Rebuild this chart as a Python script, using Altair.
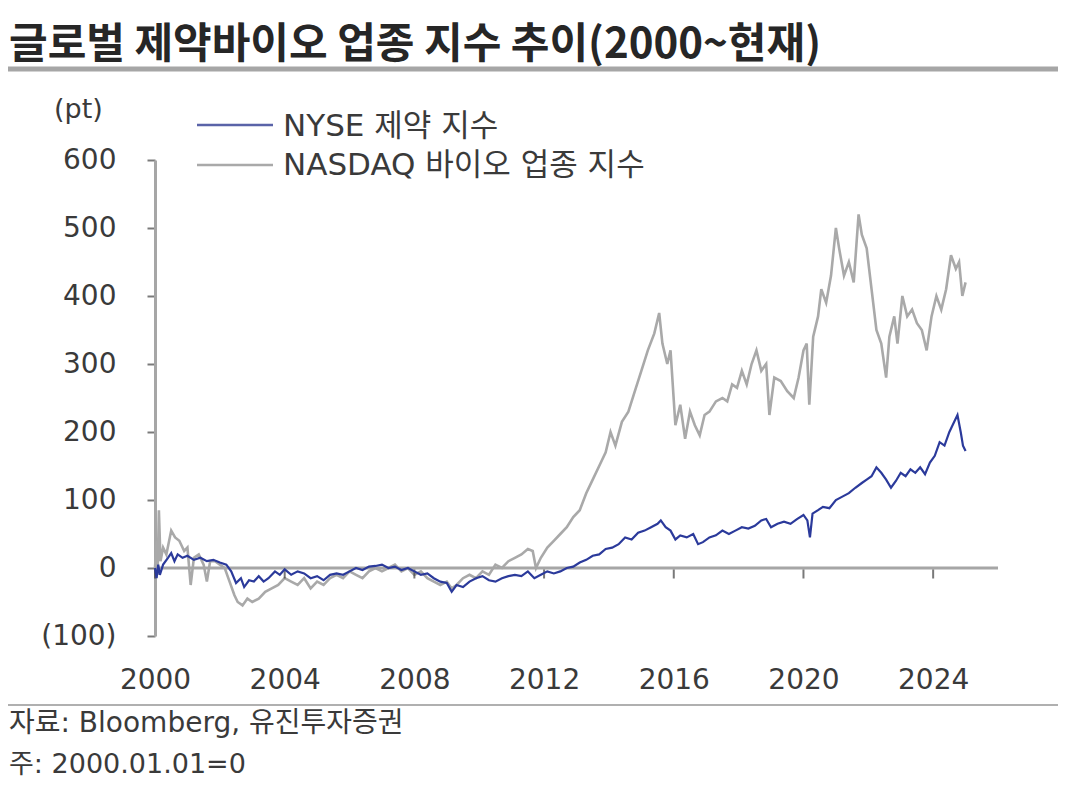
import altair as alt
import pandas as pd

FONT = "DejaVu Sans, Noto Sans CJK KR"
TFONT = "Noto Sans CJK KR"
TXT = "#3a3a3a"
BLUE = "#2b3a9b"
GRAY = "#a9a9a9"
AXIS_GRAY = "#a6a6a6"

series_names = ["NYSE 제약 지수", "NASDAQ 바이오 업종 지수"]

nasdaq_years = [2000.00, 2000.05, 2000.08, 2000.12, 2000.17, 2000.25, 2000.35, 2000.50, 2000.62, 2000.75,
                2000.90, 2001.00, 2001.10, 2001.20, 2001.35, 2001.50, 2001.60, 2001.70, 2001.85, 2002.00,
                2002.15, 2002.30, 2002.45, 2002.55, 2002.70, 2002.85, 2003.00, 2003.20, 2003.40, 2003.60,
                2003.80, 2004.00, 2004.20, 2004.40, 2004.60, 2004.80, 2005.00, 2005.20, 2005.40, 2005.60,
                2005.80, 2006.00, 2006.20, 2006.40, 2006.60, 2006.80, 2007.00, 2007.20, 2007.40, 2007.60,
                2007.80, 2008.00, 2008.20, 2008.40, 2008.60, 2008.80, 2009.00, 2009.15, 2009.30, 2009.50,
                2009.70, 2009.90, 2010.10, 2010.30, 2010.50, 2010.70, 2010.90, 2011.10, 2011.30, 2011.50,
                2011.65, 2011.75, 2011.90, 2012.10, 2012.30, 2012.50, 2012.70, 2012.90, 2013.10, 2013.30,
                2013.50, 2013.70, 2013.90, 2014.05, 2014.20, 2014.40, 2014.60, 2014.80, 2015.00, 2015.20,
                2015.40, 2015.55, 2015.65, 2015.80, 2015.90, 2016.05, 2016.20, 2016.35, 2016.50, 2016.65,
                2016.80, 2016.95, 2017.10, 2017.30, 2017.50, 2017.65, 2017.80, 2017.95, 2018.10, 2018.25,
                2018.40, 2018.55, 2018.70, 2018.85, 2018.95, 2019.10, 2019.30, 2019.50, 2019.70, 2019.85,
                2020.00, 2020.10, 2020.18, 2020.30, 2020.45, 2020.55, 2020.70, 2020.85, 2021.00, 2021.10,
                2021.25, 2021.40, 2021.55, 2021.70, 2021.80, 2021.95, 2022.10, 2022.25, 2022.40, 2022.55,
                2022.65, 2022.80, 2022.90, 2023.05, 2023.20, 2023.35, 2023.50, 2023.65, 2023.80, 2023.95,
                2024.10, 2024.25, 2024.40, 2024.55, 2024.70, 2024.80, 2024.90, 2025.00]
nasdaq_values = [0, 40, -10, 85, 10, 30, 20, 55, 45, 40,
                 25, 30, -25, 15, 20, 5, -20, 10, 10, 5,
                 0, -20, -40, -50, -55, -45, -50, -45, -35, -30,
                 -25, -15, -20, -25, -15, -30, -20, -25, -15, -10,
                 -15, -5, -10, -15, -5, 0, -5, 0, 5, -5,
                 0, -10, -5, -15, -20, -25, -20, -30, -25, -15,
                 -10, -15, -5, -10, 5, 0, 10, 15, 20, 28,
                 25, 0, 15, 30, 40, 50, 60, 75, 85, 110,
                 130, 150, 170, 200, 180, 215, 230, 260, 290, 320,
                 345, 375, 330, 300, 320, 210, 240, 190, 230, 210,
                 195, 225, 230, 245, 250, 245, 270, 265, 290, 270,
                 300, 320, 290, 300, 225, 280, 275, 260, 250, 280,
                 320, 330, 240, 340, 370, 410, 390, 430, 500, 470,
                 430, 450, 420, 520, 490, 470, 410, 350, 330, 280,
                 340, 370, 330, 400, 370, 380, 360, 350, 320, 370,
                 400, 380, 410, 460, 440, 450, 400, 420]

nyse_years = [2000.00, 2000.05, 2000.10, 2000.15, 2000.25, 2000.40, 2000.50, 2000.60, 2000.70, 2000.85,
              2001.00, 2001.20, 2001.40, 2001.60, 2001.80, 2002.00, 2002.20, 2002.35, 2002.50, 2002.65,
              2002.75, 2002.90, 2003.05, 2003.20, 2003.35, 2003.50, 2003.70, 2003.85, 2004.00, 2004.20,
              2004.40, 2004.60, 2004.80, 2005.00, 2005.20, 2005.40, 2005.60, 2005.80, 2006.00, 2006.20,
              2006.40, 2006.60, 2006.80, 2007.00, 2007.20, 2007.40, 2007.60, 2007.80, 2008.00, 2008.20,
              2008.40, 2008.60, 2008.80, 2009.00, 2009.15, 2009.30, 2009.50, 2009.70, 2009.90, 2010.10,
              2010.30, 2010.50, 2010.70, 2010.90, 2011.10, 2011.30, 2011.50, 2011.70, 2011.90, 2012.10,
              2012.30, 2012.50, 2012.70, 2012.90, 2013.10, 2013.30, 2013.50, 2013.70, 2013.90, 2014.10,
              2014.30, 2014.50, 2014.70, 2014.90, 2015.10, 2015.30, 2015.50, 2015.60, 2015.75, 2015.90,
              2016.05, 2016.20, 2016.40, 2016.60, 2016.75, 2016.90, 2017.10, 2017.30, 2017.50, 2017.70,
              2017.90, 2018.10, 2018.30, 2018.50, 2018.70, 2018.85, 2019.00, 2019.20, 2019.40, 2019.60,
              2019.80, 2020.00, 2020.12, 2020.20, 2020.28, 2020.45, 2020.60, 2020.80, 2021.00, 2021.20,
              2021.40, 2021.60, 2021.80, 2021.95, 2022.10, 2022.25, 2022.40, 2022.55, 2022.70, 2022.85,
              2023.00, 2023.15, 2023.30, 2023.45, 2023.60, 2023.75, 2023.90, 2024.05, 2024.20, 2024.35,
              2024.50, 2024.65, 2024.75, 2024.85, 2024.92, 2025.00]
nyse_values = [0, -15, 5, -10, 5, 15, 22, 10, 20, 15,
               18, 12, 15, 10, 12, 8, 5, -5, -22, -15,
               -28, -18, -20, -12, -20, -15, -5, -10, -2, -10,
               -5, -8, -15, -12, -18, -10, -8, -10, -5, 0,
               -3, 2, 3, 5, 0, 2, -3, 0, -5, -10,
               -8, -15, -20, -22, -35, -25, -28, -20, -15, -12,
               -18, -20, -15, -12, -10, -12, -5, -15, -10, -5,
               -8, -5, 0, 2, 8, 12, 18, 20, 28, 30,
               35, 45, 42, 52, 55, 60, 65, 70, 60, 55,
               42, 48, 45, 50, 35, 38, 45, 48, 55, 50,
               55, 60, 58, 62, 70, 72, 60, 65, 68, 65,
               72, 78, 70, 45, 80, 85, 90, 88, 100, 105,
               110, 118, 125, 130, 135, 148, 140, 130, 118, 128,
               140, 135, 145, 140, 148, 138, 155, 165, 185, 180,
               200, 215, 225, 200, 180, 172]

tick_years = [2000, 2004, 2008, 2012, 2016, 2020, 2024]
y_ticks = [-100, 0, 100, 200, 300, 400, 500, 600]

nyse_df = pd.DataFrame({"year": nyse_years, "value": nyse_values, "series": series_names[0]})
nasdaq_df = pd.DataFrame({"year": nasdaq_years, "value": nasdaq_values, "series": series_names[1]})
ticks_df = pd.DataFrame({"year": tick_years})

x_enc = alt.X("year:Q", scale=alt.Scale(domain=[2000, 2026], nice=False, zero=False),
              axis=alt.Axis(values=tick_years, format="d", domain=False, ticks=False, grid=False,
                            labelFlush=False, labelPadding=30, labelFontSize=28, labelColor=TXT,
                            labelFont=FONT, title=None))
y_enc = alt.Y("value:Q", scale=alt.Scale(domain=[-100, 600], nice=False, zero=False),
              axis=alt.Axis(values=y_ticks, grid=False, domainColor=AXIS_GRAY, domainWidth=3,
                            tickColor="#7a7a7a", tickSize=8, tickWidth=2, labelPadding=31,
                            labelFontSize=28, labelColor=TXT, labelFont=FONT, title=None,
                            labelExpr="datum.value < 0 ? '(' + format(-datum.value, 'd') + ')' : format(datum.value, 'd')"))

zero_line = alt.Chart(pd.DataFrame({"a": [2000], "b": [2026], "v": [0]})).mark_rule(
    color=AXIS_GRAY, strokeWidth=3).encode(x=alt.X("a:Q"), x2="b:Q", y=alt.Y("v:Q"))

xticks = alt.Chart(ticks_df).mark_tick(orient="vertical", size=9, thickness=2, color="#404040",
                                       yOffset=6).encode(x="year:Q", y=alt.datum(0))

nasdaq_line = alt.Chart(nasdaq_df).mark_line(color=GRAY, strokeWidth=2.6).encode(
    x=x_enc, y=y_enc)
nyse_line = alt.Chart(nyse_df).mark_line(color=BLUE, strokeWidth=2.2).encode(x="year:Q", y="value:Q")

# legend
leg1 = alt.Chart(pd.DataFrame({"s": [series_names[0]]})).mark_rule(color="#5a63a8", strokeWidth=2.5).encode(
    x=alt.value(42), x2=alt.value(118), y=alt.value(-35))
leg2 = alt.Chart(pd.DataFrame({"s": [series_names[1]]})).mark_rule(color=GRAY, strokeWidth=2.5).encode(
    x=alt.value(42), x2=alt.value(118), y=alt.value(5))
legt1 = alt.Chart(pd.DataFrame({"s": [series_names[0]]})).mark_text(
    align="left", baseline="middle", font=FONT, fontSize=31, color=TXT).encode(
    x=alt.value(128), y=alt.value(-33), text="s:N")
legt2 = alt.Chart(pd.DataFrame({"s": [series_names[1]]})).mark_text(
    align="left", baseline="middle", font=FONT, fontSize=31, color=TXT).encode(
    x=alt.value(128), y=alt.value(6), text="s:N")

def label(txt, x, y, size, weight="normal", font=FONT):
    return alt.Chart(pd.DataFrame({"t": [txt]})).mark_text(
        align="left", baseline="middle", font=font, fontSize=size, fontWeight=weight,
        color="#262626" if weight == "bold" else TXT).encode(
        x=alt.value(x), y=alt.value(y), text="t:N")

title = label("글로벌 제약바이오 업종 지수 추이(2000~현재)", -146, -115, 42, "bold", TFONT)
unit = label("(pt)", -101, -50, 27)
src1 = label("자료: Bloomberg, 유진투자증권", -146, 564, 28)
src2 = label("주: 2000.01.01=0", -146, 605, 27)

top_rule = alt.Chart(pd.DataFrame({"a": [0]})).mark_rule(color="#a6a6a6", strokeWidth=5).encode(
    x=alt.value(-150), x2=alt.value(905), y=alt.value(-91))
bot_rule = alt.Chart(pd.DataFrame({"a": [0]})).mark_rule(color="#b0b0b0", strokeWidth=2).encode(
    x=alt.value(-150), x2=alt.value(905), y=alt.value(545))

chart = alt.layer(
    nasdaq_line, zero_line, xticks, nyse_line,
    leg1, leg2, legt1, legt2, title, unit, src1, src2, top_rule, bot_rule
).properties(
    width=843, height=476,
    autosize=alt.AutoSizeParams(type="none"),
    padding={"left": 147, "top": 152, "right": 60, "bottom": 145},
).configure_view(stroke=None)

chart.save("out.html", embed_options={"renderer": "svg", "actions": False})
